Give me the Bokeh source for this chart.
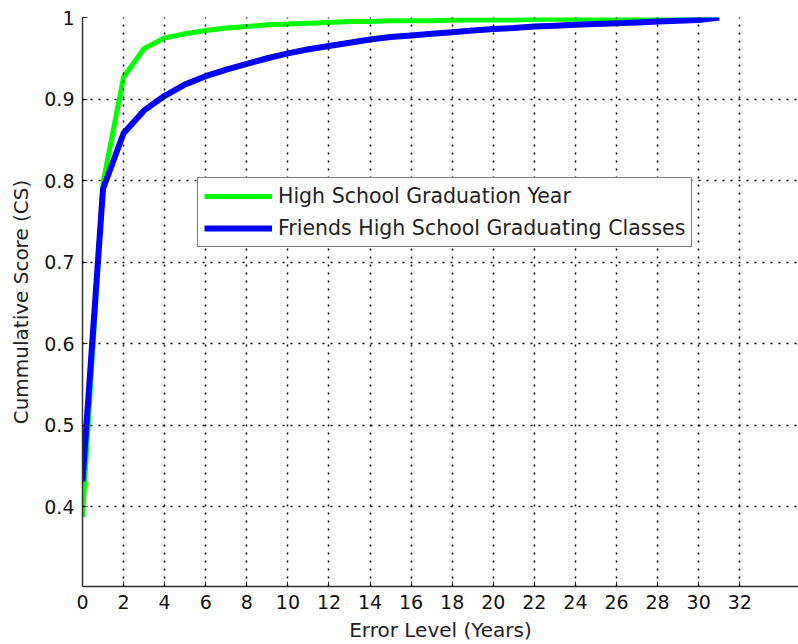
from bokeh.plotting import figure
from bokeh.models import Range1d, FixedTicker, Legend, LegendItem
from bokeh.embed import file_html
from bokeh.resources import INLINE

# data
x_vals = [0, 1, 2, 3, 4, 5, 6, 7, 8, 9, 10, 11, 12, 13, 14, 15, 16, 17, 18, 19, 20,
          21, 22, 23, 24, 25, 26, 27, 28, 29, 30, 31]
hs_year = [0.387, 0.797, 0.927, 0.962, 0.975, 0.980, 0.984, 0.987, 0.989, 0.991, 0.992,
           0.993, 0.994, 0.995, 0.995, 0.996, 0.996, 0.996, 0.997, 0.997, 0.997,
           0.997, 0.998, 0.998, 0.998, 0.998, 0.998, 0.999, 0.999, 0.999, 0.999, 1.0]
friends_classes = [0.431, 0.790, 0.858, 0.886, 0.904, 0.918, 0.928, 0.936, 0.943, 0.950,
                   0.956, 0.961, 0.965, 0.969, 0.973, 0.976, 0.978, 0.980, 0.982, 0.984,
                   0.986, 0.987, 0.989, 0.990, 0.991, 0.992, 0.993, 0.994, 0.995, 0.996,
                   0.997, 1.0]
x_ticks = list(range(0, 33, 2))
y_ticks = [0.4, 0.5, 0.6, 0.7, 0.8, 0.9, 1.0]
y_tick_labels = {0.4: "0.4", 0.5: "0.5", 0.6: "0.6", 0.7: "0.7", 0.8: "0.8", 0.9: "0.9", 1.0: "1"}
series_names = ["High School Graduation Year", "Friends High School Graduating Classes"]

FONT = "DejaVu Sans"

p = figure(frame_width=716, frame_height=569, output_backend="svg", toolbar_location=None,
           x_range=Range1d(0, 34.86), y_range=Range1d(0.302, 1.0),
           min_border_left=82, min_border_top=17, min_border_right=0, min_border_bottom=58)
p.outline_line_color = None
p.background_fill_color = "white"
p.border_fill_color = "white"

g = p.line(x_vals, hs_year, line_color="#00ff00", line_width=5)
b = p.line(x_vals, friends_classes, line_color="#0000ff", line_width=6)

p.xaxis.ticker = FixedTicker(ticks=x_ticks)
p.yaxis.ticker = FixedTicker(ticks=y_ticks)
p.yaxis.major_label_overrides = y_tick_labels
for ax in (p.xaxis, p.yaxis):
    ax.axis_line_color = "#333333"
    ax.axis_line_width = 1.5
    ax.major_tick_in = 5
    ax.major_tick_out = 0
    ax.minor_tick_line_color = None
    ax.major_tick_line_color = "#333333"
    ax.major_label_text_font = FONT
    ax.major_label_text_font_size = "19px"
    ax.major_label_text_color = "#111111"
    ax.axis_label_text_font = FONT
    ax.axis_label_text_font_size = "20px"
    ax.axis_label_text_font_style = "normal"
    ax.axis_label_text_color = "#222222"
p.xaxis.axis_label = "Error Level (Years)"
p.yaxis.axis_label = "Cummulative Score (CS)"
p.xaxis.major_label_standoff = 8
p.xaxis.axis_label_standoff = 6
p.yaxis.major_label_standoff = 8
p.yaxis.axis_label_standoff = 8

for gr in (p.xgrid, p.ygrid):
    gr.grid_line_color = "black"
    gr.grid_line_dash = "2 6"
    gr.grid_line_width = 1.5
    gr.level = "overlay"

legend = Legend(items=[LegendItem(label=series_names[0], renderers=[g]),
                       LegendItem(label=series_names[1], renderers=[b])],
                location=(115, 339))
legend.border_line_color = "black"
legend.border_line_width = 1
legend.background_fill_color = "white"
legend.background_fill_alpha = 1
legend.label_text_font = FONT
legend.label_text_font_size = "20.5px"
legend.label_text_color = "#222222"
legend.label_height = 22
legend.glyph_height = 22
legend.glyph_width = 68
legend.label_standoff = 6
legend.spacing = 8
legend.padding = 6
legend.margin = 0
p.add_layout(legend, "center")

open("out.html", "w").write(file_html(p, INLINE))
